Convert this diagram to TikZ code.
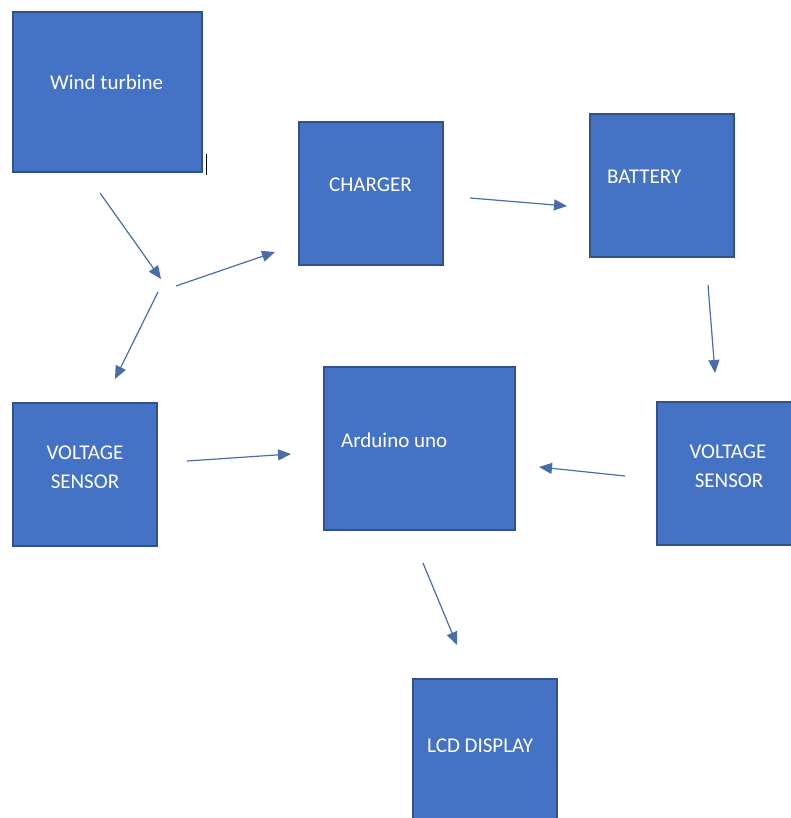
\documentclass[tikz,border=0pt]{standalone}
\usepackage{fontspec}
\setmainfont{Carlito}
\usetikzlibrary{arrows.meta}
\definecolor{boxfill}{HTML}{4472C4}
\definecolor{boxline}{HTML}{2F528F}
\definecolor{arrowc}{HTML}{4A6DAA}
\begin{document}
\begin{tikzpicture}[x=1pt,y=-1pt,
  blk/.style={draw=boxline,line width=1.3pt,fill=boxfill,inner sep=0pt},
  lbl/.style={text=white,font=\fontsize{21}{25}\selectfont,inner sep=0pt},
  conn/.style={draw=arrowc,line width=1.2pt,-{Triangle[length=13pt,width=11pt]}}]
\useasboundingbox (0,0) rectangle (791,818);
\fill[white] (0,0) rectangle (791,818);
% boxes
\node[blk,minimum width=189pt,minimum height=160pt] (wt) at (107.5,92) {};
\node[blk,minimum width=144pt,minimum height=143pt] (ch) at (371,193.5) {};
\node[blk,minimum width=144pt,minimum height=143pt] (bat) at (662,185.5) {};
\node[blk,minimum width=144pt,minimum height=143pt] (vsl) at (85,474.5) {};
\node[blk,minimum width=191pt,minimum height=163pt] (ard) at (419.5,448.5) {};
\node[blk,minimum width=144pt,minimum height=143pt] (vsr) at (729,473.5) {};
\node[blk,minimum width=144pt,minimum height=145pt] (lcd) at (485,751.5) {};
% labels
\node[lbl,anchor=base west] (wtl) at (50,90) {Wind turbine};
\node[lbl,anchor=base west] (chl) at (329,192) {CHARGER};
\node[lbl,anchor=base west] (batl) at (607,184) {BATTERY};
\node[lbl,anchor=base] (vsl1) at (85,459) {VOLTAGE};
\node[lbl,anchor=base] (vsl2) at (85,488) {SENSOR};
\node[lbl,anchor=base west] (ardl) at (341,447) {Arduino uno};
\node[lbl,anchor=base] (vsr1) at (728,458) {VOLTAGE};
\node[lbl,anchor=base] (vsr2) at (729,487) {SENSOR};
\node[lbl,anchor=base west] (lcdl) at (427,752) {LCD DISPLAY};
% cursor mark
\coordinate (cur1) at (206,154);
\coordinate (cur2) at (206,175);
\draw[black,line width=1pt] (cur1) -- (cur2);
% arrow end points
\coordinate (a1s) at (100,193);
\coordinate (a1e) at (161,279);
\coordinate (a2s) at (176,286);
\coordinate (a2e) at (275,252);
\coordinate (a3s) at (158,292);
\coordinate (a3e) at (115,379);
\coordinate (a4s) at (470,198);
\coordinate (a4e) at (567,206);
\coordinate (a5s) at (708,285);
\coordinate (a5e) at (715,373);
\coordinate (a6s) at (625,476);
\coordinate (a6e) at (539,467);
\coordinate (a7s) at (187,461);
\coordinate (a7e) at (291,454);
\coordinate (a8s) at (423,563);
\coordinate (a8e) at (457,645);
\draw[conn] (a1s) -- (a1e);
\draw[conn] (a2s) -- (a2e);
\draw[conn] (a3s) -- (a3e);
\draw[conn] (a4s) -- (a4e);
\draw[conn] (a5s) -- (a5e);
\draw[conn] (a6s) -- (a6e);
\draw[conn] (a7s) -- (a7e);
\draw[conn] (a8s) -- (a8e);
\end{tikzpicture}
\end{document}
